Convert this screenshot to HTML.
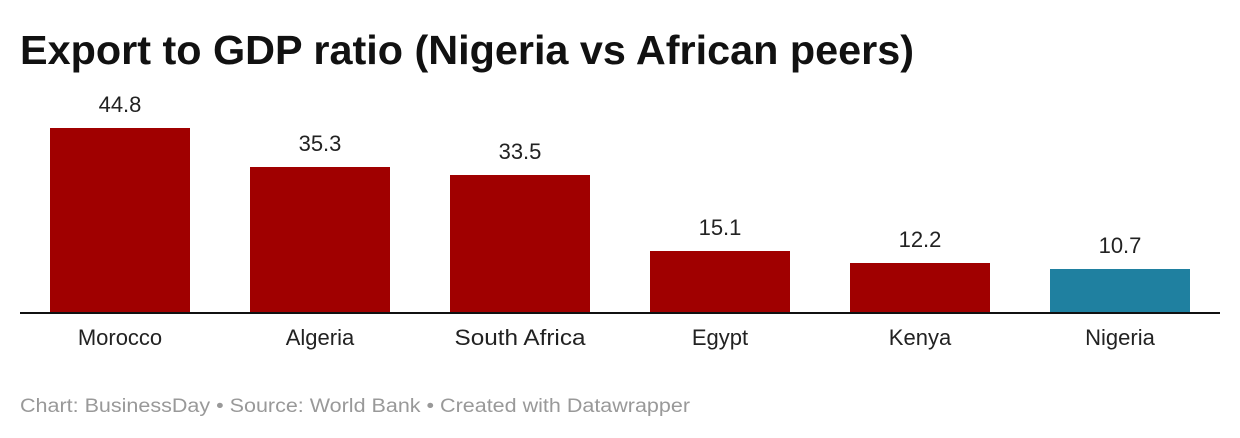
<!DOCTYPE html>
<html><head><style>
html,body{margin:0;padding:0;background:#fff;}
svg{display:block;font-family:"Liberation Sans",sans-serif;}
</style></head><body>
<svg width="1240" height="438" viewBox="0 0 1240 438">
<text x="20" y="64" font-size="41" font-weight="bold" fill="#111" textLength="894" lengthAdjust="spacingAndGlyphs">Export to GDP ratio (Nigeria vs African peers)</text>
<g fill="#a00000">
<rect x="50" y="128" width="140" height="185"/>
<rect x="250" y="167" width="140" height="146"/>
<rect x="450" y="175" width="140" height="138"/>
<rect x="650" y="251" width="140" height="62"/>
<rect x="850" y="263" width="140" height="50"/>
</g>
<rect x="1050" y="269" width="140" height="44" fill="#1f80a0"/>
<rect x="20" y="312" width="1200" height="2" fill="#111"/>
<g font-size="22" fill="#222" text-anchor="middle">
<text x="120" y="112">44.8</text>
<text x="320" y="151">35.3</text>
<text x="520" y="159">33.5</text>
<text x="720" y="235">15.1</text>
<text x="920" y="247">12.2</text>
<text x="1120" y="253">10.7</text>
<text x="120" y="345">Morocco</text>
<text x="320" y="345">Algeria</text>
<text x="520" y="345" textLength="131" lengthAdjust="spacingAndGlyphs">South Africa</text>
<text x="720" y="345">Egypt</text>
<text x="920" y="345">Kenya</text>
<text x="1120" y="345">Nigeria</text>
</g>
<text x="20" y="412" font-size="19" fill="#999" textLength="670" lengthAdjust="spacingAndGlyphs">Chart: BusinessDay • Source: World Bank • Created with Datawrapper</text>
</svg>
</body></html>
